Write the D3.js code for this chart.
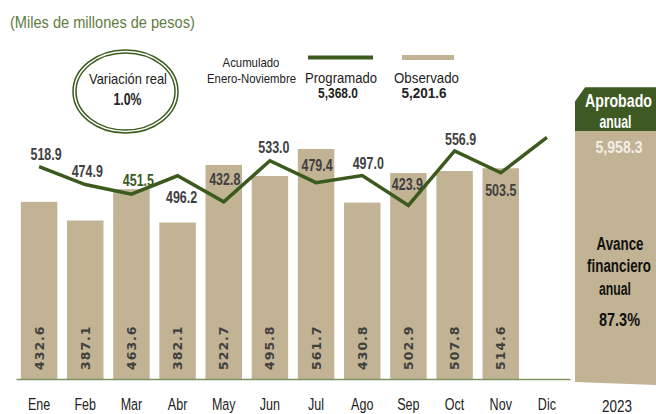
<!DOCTYPE html>
<html><head><meta charset="utf-8">
<script src="https://cdn.jsdelivr.net/npm/d3@7"></script>
<style>body{margin:0;background:#fff}svg{display:block}</style>
</head><body><div id="c"></div>
<script>
const months = ["Ene","Feb","Mar","Abr","May","Jun","Jul","Ago","Sep","Oct","Nov","Dic"];
const programado = [518.9,474.9,451.5,496.2,432.8,533.0,479.4,497.0,423.9,556.9,503.5,590.3];
const observado = [432.6,387.1,463.6,382.1,522.7,495.8,561.7,430.8,502.9,507.8,514.6,null];
const progLabels = ["518.9","474.9","451.5","496.2","432.8","533.0","479.4","497.0","423.9","556.9","503.5",null];
const totalProgramado = "5,368.0", totalObservado = "5,201.6", aprobadoAnual = "5,958.3";
const avanceAnual = "87.3%", variacionReal = "1.0%", year = "2023";

// layout: label offsets relative to the line point
const labelOff = [[7,-6.5],[2,-8],[7,-8],[4,27],[1,-17],[4,-8],[1,-12],[6,-6],[-1,-15],[6,-6],[0,23]];

const W=656,H=414;
const svg=d3.select("#c").append("svg").attr("width",W).attr("height",H);
const FN="'Liberation Sans',Arial,sans-serif";
const GREEN="#3b5a1e", TAN="#c2b394", GRAY="#404040";

function T(x,y,str,o){
  const t=svg.append("text").attr("text-anchor",o.anchor||"middle").attr("font-family",FN)
    .attr("font-size",o.size).attr("font-weight",o.bold?"bold":"normal").attr("fill",o.fill||"#222").text(str);
  const w=t.node().getComputedTextLength();
  const s=o.width? o.width/w : (o.sx||1);
  t.attr("transform",`translate(${x},${y}) scale(${s},1)`);
  return t;
}

const x=d3.scaleBand().domain(months).range([16,570]).paddingInner(0.21).paddingOuter(0.105);
const y=d3.scaleLinear().domain([0,600]).range([379,133.3]);

// bars
const obs=months.map((m,i)=>({m,v:observado[i]})).filter(d=>d.v!=null);
svg.selectAll("rect.bar").data(obs).join("rect").attr("class","bar")
  .attr("x",d=>x(d.m)).attr("width",x.bandwidth())
  .attr("y",d=>y(d.v)).attr("height",d=>y(0)-y(d.v)).attr("fill",TAN);

// axis
const ax=svg.append("g").attr("transform","translate(0,379)").call(d3.axisBottom(x).tickSize(0).tickPadding(19.5));
ax.select(".domain").attr("stroke","#7d9462").attr("stroke-width",1.5);
ax.selectAll("text").attr("font-family",FN).attr("font-size",16.5).attr("fill","#222")
  .attr("transform","scale(0.76,1)");

// bar value labels (rotated)
svg.selectAll("text.bv").data(obs).join("text").attr("class","bv")
  .attr("transform",d=>`translate(${x(d.m)+x.bandwidth()/2+4.5},370) rotate(-90)`)
  .attr("font-family","'DejaVu Sans',sans-serif").attr("font-weight","bold").attr("font-size",12.5)
  .attr("letter-spacing",1).attr("fill",GRAY)
  .text(d=>d.v.toFixed(1));

// line
const pts=months.map((m,i)=>[x(m)+x.bandwidth()/2,y(programado[i])]);
svg.append("path").attr("d",d3.line()(pts)).attr("fill","none").attr("stroke",GREEN)
  .attr("stroke-width",3.5).attr("stroke-linejoin","miter");

// line labels
progLabels.forEach((d,i)=>{ if(d==null) return;
  T(pts[i][0]+labelOff[i][0],pts[i][1]+labelOff[i][1],d,{size:16.5,bold:true,sx:0.755,fill:i===2?GREEN:GRAY});
});

// title
T(10,28,"(Miles de millones de pesos)",{size:16,anchor:"start",width:185,fill:"#5f7d3f"});

// ellipse
[[52.5,41.5],[49.5,38.5]].forEach(([rx,ry])=>svg.append("ellipse").attr("cx",125.5).attr("cy",91.5)
  .attr("rx",rx).attr("ry",ry).attr("fill","none").attr("stroke",GREEN).attr("stroke-width",1.5));
T(128,84,"Variación real",{size:14,width:78});
T(127.5,105,variacionReal,{size:16,bold:true,width:28});

// legend
T(251,66.5,"Acumulado",{size:12.5,width:57});
T(251.5,83,"Enero-Noviembre",{size:13.5,width:89});
svg.append("line").attr("x1",308).attr("x2",373).attr("y1",57.5).attr("y2",57.5).attr("stroke",GREEN).attr("stroke-width",4);
svg.append("line").attr("x1",402).attr("x2",454).attr("y1",57.5).attr("y2",57.5).attr("stroke",TAN).attr("stroke-width",5);
T(341,82.5,"Programado",{size:14.5,width:72});
T(426.5,83,"Observado",{size:14.5,width:65});
T(338,97.5,totalProgramado,{size:14,bold:true,width:40});
T(424,97.5,totalObservado,{size:14,bold:true,width:45});

// right panel
svg.append("path").attr("d","M575,131 L575,382 L656,385 L656,131 Z").attr("fill",TAN);
svg.append("path").attr("d","M575,131 L575,101.5 L585,87.3 L656,87.3 L656,131 Z").attr("fill","#3e5a22");
T(618.5,107,"Aprobado",{size:18,bold:true,width:67,fill:"#fff"});
T(615.5,128,"anual",{size:18,bold:true,width:32,fill:"#fff"});
T(619,153,aprobadoAnual,{size:16,bold:true,width:47,fill:"#f3efe6"});
T(620,250,"Avance",{size:19,bold:true,width:47,fill:"#111"});
T(619,272,"financiero",{size:19,bold:true,width:64,fill:"#111"});
T(615,295,"anual",{size:19,bold:true,width:32,fill:"#111"});
T(619.5,326,avanceAnual,{size:19,bold:true,width:41,fill:"#111"});
T(617,412,year,{size:16,width:30});
</script></body></html>
